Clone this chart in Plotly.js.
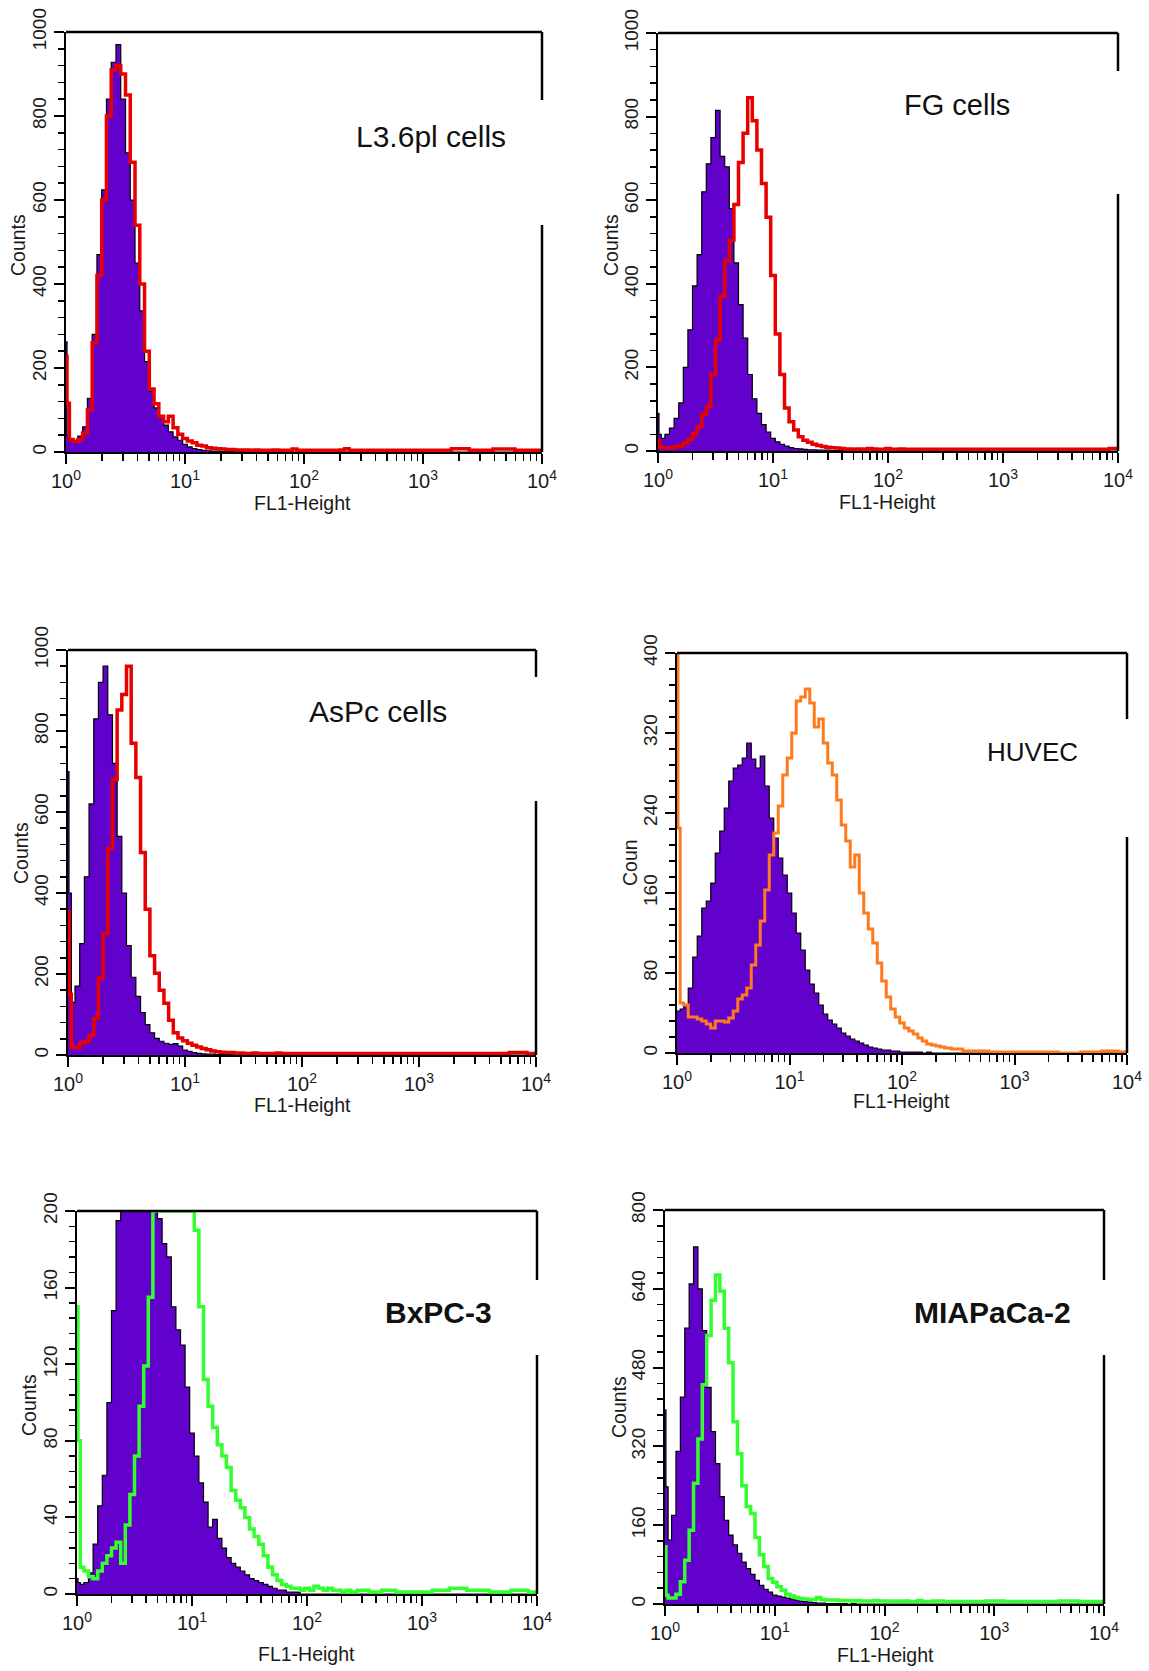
<!DOCTYPE html>
<html>
<head>
<meta charset="utf-8">
<script src="https://cdn.plot.ly/plotly-3.0.1.min.js"></script>
<style>
  html, body { margin: 0; padding: 0; background: #ffffff; }
  #chart { width: 1149px; height: 1671px; }
</style>
</head>
<body>
<div id="chart"></div>
<script>
// ---------------- DATA ----------------
// FL1 channel positions (log scale)
const fl1Channel = [1.00, 1.04,
  1.096, 1.202, 1.318, 1.445, 1.585, 1.738, 1.905, 2.089, 2.291, 2.512,
  2.754, 3.020, 3.311, 3.631, 3.981, 4.365, 4.786, 5.248, 5.754, 6.310,
  6.918, 7.586, 8.318, 9.120, 10.00, 10.96, 12.02, 13.18, 14.45, 15.85,
  17.38, 19.05, 20.89, 22.91, 25.12, 27.54, 30.20, 33.11, 36.31, 39.81,
  43.65, 47.86, 52.48, 57.54, 63.10, 69.18, 75.86, 83.18, 91.20, 100.0,
  110, 120, 132, 145, 158, 174, 191, 209, 229, 251,
  300, 400, 500, 700, 1000, 1500, 2000, 3000, 5000, 7000, 10000];

// L3.6pl cells
const l36Control = [262, 40,
  30, 28, 38, 60, 128, 280, 470, 624, 840, 928,
  970, 840, 712, 600, 450, 336, 215, 145, 105, 85,
  64, 48, 36, 28, 18, 12, 8, 6, 4, 3,
  2, 2, 1, 1, 1, 1, 1, 0, 1, 0,
  0, 1, 0, 0, 0, 1, 0, 0, 0, 0,
  0, 0, 1, 0, 0, 0, 0, 0, 0, 1,
  0, 0, 0, 0, 0, 0, 0, 0, 0, 0, 0];
const l36Antibody = [228, 116,
  30, 25, 30, 45, 100, 260, 420, 600, 800, 910,
  920, 900, 850, 690, 540, 400, 240, 150, 115, 85,
  72, 85, 58, 42, 32, 26, 22, 16, 14, 10,
  9, 8, 7, 6, 6, 5, 5, 5, 4, 5,
  4, 4, 4, 5, 4, 4, 4, 7, 4, 4,
  4, 4, 4, 4, 4, 4, 4, 5, 8, 4,
  4, 4, 4, 4, 4, 4, 8, 4, 7, 4, 4];

// FG cells
const fgControl = [90, 40,
  30, 40, 55, 78, 115, 200, 290, 395, 470, 620,
  687, 750, 815, 705, 680, 580, 450, 350, 270, 183,
  125, 90, 63, 45, 30, 22, 16, 12, 8, 6,
  5, 4, 3, 3, 2, 2, 2, 1, 1, 1,
  1, 1, 0, 1, 0, 0, 1, 0, 0, 0,
  0, 0, 0, 1, 0, 0, 0, 0, 0, 0,
  0, 0, 0, 0, 0, 0, 0, 0, 0, 0, 0];
const fgAntibody = [26, 10,
  8, 8, 8, 10, 12, 20, 28, 42, 58, 88,
  106, 183, 265, 370, 455, 505, 590, 690, 760, 845,
  790, 720, 640, 559, 420, 280, 183, 103, 70, 50,
  34, 26, 21, 16, 13, 11, 9, 8, 7, 6,
  5, 5, 4, 5, 4, 6, 5, 4, 4, 6,
  4, 4, 5, 4, 4, 4, 4, 4, 4, 4,
  4, 4, 4, 4, 4, 4, 4, 4, 4, 4, 6];

// AsPc cells
const aspcControl = [700, 400,
  130, 170, 275, 440, 620, 830, 920, 960, 840, 720,
  540, 400, 270, 192, 145, 105, 75, 55, 41, 34,
  29, 26, 28, 22, 12, 9, 6, 4, 3, 2,
  2, 1, 1, 1, 1, 0, 1, 0, 0, 1,
  0, 0, 0, 1, 0, 0, 0, 0, 0, 0,
  0, 0, 0, 0, 0, 0, 0, 0, 0, 0,
  0, 0, 0, 0, 0, 0, 0, 0, 0, 0, 0];
const aspcAntibody = [354, 150,
  20, 18, 29, 34, 48, 90, 190, 300, 510, 680,
  852, 890, 960, 770, 685, 500, 360, 245, 202, 160,
  128, 86, 55, 42, 35, 29, 24, 20, 16, 13,
  10, 8, 7, 6, 6, 5, 5, 4, 4, 5,
  4, 4, 4, 4, 5, 4, 4, 4, 4, 4,
  4, 4, 4, 4, 4, 4, 4, 4, 4, 4,
  4, 4, 4, 4, 4, 4, 4, 4, 4, 6, 4];

// HUVEC
const huvecControl = [42, 42,
  44, 48, 65, 96, 117, 145, 152, 170, 200, 222,
  245, 272, 285, 288, 295, 310, 294, 285, 297, 267,
  235, 215, 195, 178, 160, 140, 120, 103, 83, 69,
  60, 48, 39, 33, 29, 25, 20, 17, 14, 12,
  10, 8, 6, 5, 4, 3, 3, 2, 2, 1,
  1, 1, 1, 1, 0, 1, 0, 0, 0, 0,
  0, 0, 0, 0, 0, 0, 0, 0, 0, 0, 0];
const huvecAntibody = [1200, 225,
  50, 48, 36, 36, 34, 32, 29, 25, 32, 32,
  31, 35, 42, 54, 58, 65, 88, 108, 132, 163,
  198, 220, 247, 278, 295, 320, 352, 356, 364, 350,
  326, 334, 310, 290, 278, 253, 228, 212, 186, 198,
  160, 140, 124, 110, 90, 72, 56, 44, 36, 30,
  25, 22, 19, 15, 12, 9, 8, 7, 6, 5,
  4, 2, 2, 1, 1, 1, 1, 0, 1, 2, 1];

// BxPC-3
const bxpcControl = [8, 6,
  5, 6, 11, 26, 46, 62, 100, 148, 195, 200,
  200, 200, 200, 200, 200, 200, 200, 196, 183, 176,
  150, 138, 130, 108, 84, 72, 58, 48, 35, 39,
  29, 24, 19, 16, 14, 12, 10, 8, 7, 6,
  5, 4, 3, 2, 2, 1, 1, 1, 0, 0,
  0, 0, 0, 0, 0, 0, 0, 0, 0, 0,
  0, 0, 0, 0, 0, 0, 0, 0, 0, 0, 0];
const bxpcAntibody = [150, 80,
  14, 12, 9, 8, 12, 16, 20, 24, 27, 16,
  36, 52, 72, 98, 119, 155, 200, 200, 200, 200,
  200, 200, 200, 200, 200, 190, 150, 112, 98, 87,
  78, 72, 66, 54, 49, 45, 40, 34, 30, 26,
  20, 14, 10, 7, 5, 4, 3, 3, 2, 3,
  2, 4, 3, 2, 3, 2, 2, 1, 2, 1,
  2, 1, 2, 1, 1, 2, 3, 2, 1, 2, 1];

// MIAPaCa-2
const miaControl = [394, 238,
  130, 180, 310, 420, 560, 650, 725, 640, 555, 440,
  350, 285, 218, 170, 140, 120, 103, 85, 72, 60,
  48, 38, 30, 24, 18, 16, 14, 12, 10, 8,
  6, 5, 4, 3, 2, 2, 1, 1, 1, 1,
  1, 0, 1, 0, 0, 0, 0, 0, 0, 0,
  0, 0, 0, 0, 0, 0, 0, 0, 0, 0,
  0, 0, 0, 0, 0, 0, 0, 0, 0, 0, 0];
const miaAntibody = [116, 18,
  12, 12, 20, 45, 89, 150, 245, 335, 445, 545,
  617, 668, 635, 560, 490, 370, 305, 240, 198, 184,
  135, 100, 76, 52, 44, 35, 28, 20, 16, 13,
  11, 10, 9, 9, 13, 9, 8, 8, 8, 7,
  7, 7, 6, 7, 6, 6, 6, 7, 6, 6,
  6, 5, 6, 5, 6, 5, 5, 7, 5, 5,
  6, 5, 5, 5, 6, 5, 5, 5, 6, 5, 5];

const panelLabels = ['L3.6pl cells', 'FG cells', 'AsPc cells', 'HUVEC', 'BxPC-3', 'MIAPaCa-2'];
const yTitles = ['Counts', 'Counts', 'Counts', 'Coun', 'Counts', 'Counts'];
const xTitle = 'FL1-Height';
const xTickVals = [1, 10, 100, 1000, 10000];
const xTickText = ['10<sup>0</sup>', '10<sup>1</sup>', '10<sup>2</sup>', '10<sup>3</sup>', '10<sup>4</sup>'];
const xMinorVals = [2, 3, 4, 5, 6, 7, 8, 9, 20, 30, 40, 50, 60, 70, 80, 90,
  200, 300, 400, 500, 600, 700, 800, 900, 2000, 3000, 4000, 5000, 6000, 7000, 8000, 9000];
const yMax = [1000, 1000, 1000, 400, 200, 800];
const yMajorStep = [200, 200, 200, 80, 40, 160];
const yMinorStep = [40, 40, 40, 16, 8, 32];

const controls = [l36Control, fgControl, aspcControl, huvecControl, bxpcControl, miaControl];
const antibodies = [l36Antibody, fgAntibody, aspcAntibody, huvecAntibody, bxpcAntibody, miaAntibody];

// ---------------- LAYOUT / STYLE ----------------
const W = 1149, H = 1671;
const FONT = 'Liberation Sans, Arial, Helvetica, sans-serif';
// plot boxes in pixels: left, right, top, bottom
const boxes = [[66, 542, 32, 452], [658, 1118, 33, 451], [68, 536, 650, 1055],
               [677, 1127, 653, 1053], [77, 537, 1211, 1594], [665, 1104, 1210, 1604]];
const rightGaps = [[100, 225], [71, 194], [677, 801], [719, 837], [1280, 1355], [1280, 1355]];
const labelPos = [[431, 136], [957, 105], [378, 712], [1032, 752], [438, 1312], [992, 1312]];
const labelStyle = [
  {size: 30, family: FONT, bold: false},
  {size: 29, family: FONT, bold: false},
  {size: 30, family: FONT, bold: false},
  {size: 26, family: 'Liberation Sans Narrow, Arial Narrow, ' + FONT, bold: false},
  {size: 30, family: FONT, bold: true},
  {size: 30, family: FONT, bold: true}];
const xTitlePos = [[302, 503], [887, 502], [302, 1105], [901, 1101], [306, 1654], [885, 1655]];
const yTitlePos = [[18, 245], [611, 245], [21, 853], [630, 863], [29, 1405], [619, 1407]];
const overlayColor = ['#E60000', '#E60000', '#E60000', '#FF7A1F', '#33FF2E', '#33FF2E'];
const overlayWidth = [3.5, 3.5, 3.5, 3, 3.5, 3.5];
const fillColor = '#6200CC';

const px = x => x / W;
const py = y => 1 - y / H;

const data = [];
const layout = {
  width: W, height: H,
  margin: {l: 0, r: 0, t: 0, b: 0},
  paper_bgcolor: '#ffffff', plot_bgcolor: '#ffffff',
  showlegend: false,
  font: {family: FONT, color: '#1a1a1a'},
  shapes: [], annotations: []
};

for (let i = 0; i < 6; i++) {
  const n = i === 0 ? '' : String(i + 1);
  const [l, r, t, b] = boxes[i];
  data.push({
    type: 'scatter', mode: 'lines', x: fl1Channel, y: controls[i],
    xaxis: 'x' + n, yaxis: 'y' + n,
    line: {color: '#000000', width: 1.2, shape: 'hvh'},
    fill: 'tozeroy', fillcolor: fillColor, hoverinfo: 'skip'
  });
  data.push({
    type: 'scatter', mode: 'lines', x: fl1Channel, y: antibodies[i],
    xaxis: 'x' + n, yaxis: 'y' + n,
    line: {color: overlayColor[i], width: overlayWidth[i], shape: 'hvh'},
    hoverinfo: 'skip'
  });
  layout['xaxis' + n] = {
    type: 'log', range: [0, 4], domain: [px(l), px(r)], anchor: 'y' + n,
    showline: true, linecolor: '#000', linewidth: 2,
    ticks: 'outside', ticklen: 10, tickwidth: 2, tickcolor: '#000',
    tickmode: 'array', tickvals: xTickVals, ticktext: xTickText,
    tickfont: {size: 20, family: FONT, color: '#1a1a1a'},
    minor: {tickmode: 'array', tickvals: xMinorVals, ticks: 'outside', ticklen: 7, tickwidth: 1.5, tickcolor: '#000'},
    showgrid: false, zeroline: false, fixedrange: true
  };
  layout['yaxis' + n] = {
    range: [0, yMax[i]], domain: [py(b), py(t)], anchor: 'x' + n,
    showline: true, linecolor: '#000', linewidth: 2,
    ticks: 'outside', ticklen: 10, tickwidth: 2, tickcolor: '#000',
    tick0: 0, dtick: yMajorStep[i], tickangle: -90,
    tickfont: {size: 19, family: FONT, color: '#1a1a1a'},
    minor: {dtick: yMinorStep[i], tick0: 0, ticks: 'outside', ticklen: 6, tickwidth: 1.5, tickcolor: '#000'},
    showgrid: false, zeroline: false, fixedrange: true
  };
  // frame: top line and right line with a gap
  const ln = {color: '#000', width: 2.5};
  layout.shapes.push({type: 'line', xref: 'paper', yref: 'paper', x0: px(l), x1: px(r), y0: py(t), y1: py(t), line: ln});
  layout.shapes.push({type: 'line', xref: 'paper', yref: 'paper', x0: px(r), x1: px(r), y0: py(t), y1: py(rightGaps[i][0]), line: ln});
  layout.shapes.push({type: 'line', xref: 'paper', yref: 'paper', x0: px(r), x1: px(r), y0: py(rightGaps[i][1]), y1: py(b), line: ln});
  // panel label
  const st = labelStyle[i];
  layout.annotations.push({
    xref: 'paper', yref: 'paper', x: px(labelPos[i][0]), y: py(labelPos[i][1]),
    xanchor: 'center', yanchor: 'middle', showarrow: false,
    text: st.bold ? '<b>' + panelLabels[i] + '</b>' : panelLabels[i],
    font: {size: st.size, family: st.family, color: '#111'}
  });
  layout.annotations.push({
    xref: 'paper', yref: 'paper', x: px(xTitlePos[i][0]), y: py(xTitlePos[i][1]),
    xanchor: 'center', yanchor: 'middle', showarrow: false, text: xTitle,
    font: {size: 19.5, family: FONT, color: '#1a1a1a'}
  });
  layout.annotations.push({
    xref: 'paper', yref: 'paper', x: px(yTitlePos[i][0]), y: py(yTitlePos[i][1]),
    xanchor: 'center', yanchor: 'middle', showarrow: false, text: yTitles[i], textangle: -90,
    font: {size: 19.5, family: FONT, color: '#1a1a1a'}
  });
}

Plotly.newPlot('chart', data, layout, {staticPlot: true, displayModeBar: false});
</script>
</body>
</html>
